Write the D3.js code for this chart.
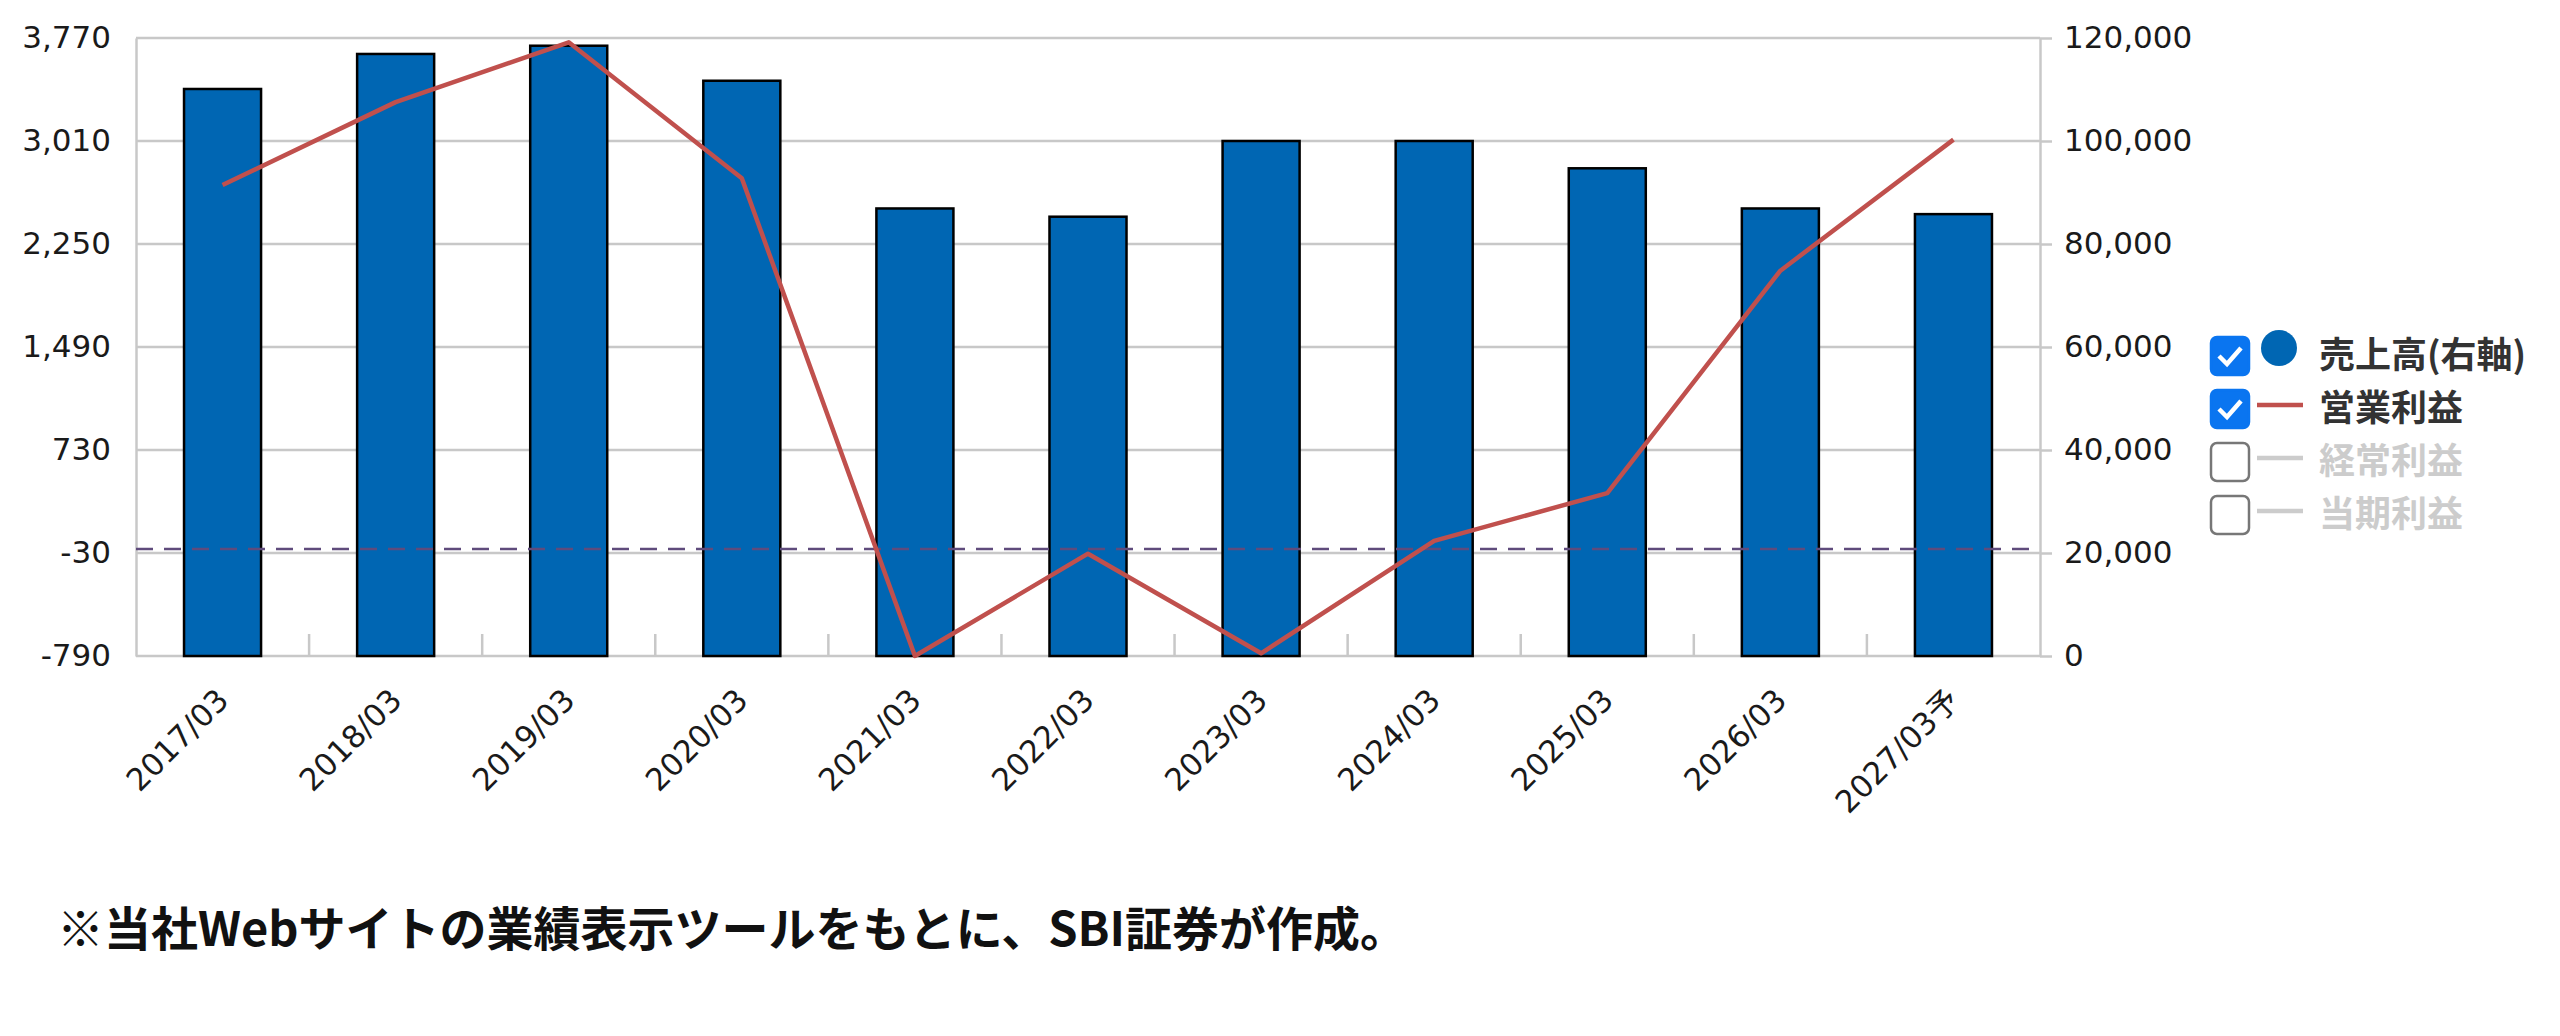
<!DOCTYPE html>
<html>
<head>
<meta charset="utf-8">
<script src="https://cdn.jsdelivr.net/npm/d3@7"></script>
<style>
  body { margin: 0; background: #fff; }
  svg { display: block; }
</style>
</head>
<body>
<div class="chart"></div>
<script>
// data
const categories = ["2017/03", "2018/03", "2019/03", "2020/03", "2021/03", "2022/03",
                    "2023/03", "2024/03", "2025/03", "2026/03", "2027/03予"];
const sales = [110100, 116900, 118500, 111700, 86900, 85300, 100000, 100000, 94700, 86900, 85800]; // 売上高(右軸)
const opProfit = [2685, 3297, 3738, 2735, -790, -35, -770, 60, 412, 2053, 3020];                     // 営業利益
const leftTicks = [-790, -30, 730, 1490, 2250, 3010, 3770];
const rightTicks = [0, 20000, 40000, 60000, 80000, 100000, 120000];
const legendItems = [
  { label: "売上高(右軸)", on: true, kind: "dot" },
  { label: "営業利益", on: true, kind: "line" },
  { label: "経常利益", on: false, kind: "line" },
  { label: "当期利益", on: false, kind: "line" }
];
const footnote = "※当社Webサイトの業績表示ツールをもとに、SBI証券が作成。";

const W = 2560, H = 1036;
const plotLeft = 136, plotRight = 2040, plotTop = 38, plotBottom = 656;
const font = '"DejaVu Sans", "Noto Sans CJK JP", sans-serif';
const jpFont = '"Noto Sans CJK JP", sans-serif';
const fmt = d => d3.format(",")(d).replace("\u2212", "-"); // plain hyphen like the original

const svg = d3.select(".chart").append("svg")
  .attr("width", W)
  .attr("height", H)
  .style("background", "#fff");

// scales
const x = d3.scaleBand()
  .domain(categories)
  .range([plotLeft, plotRight])
  .paddingInner(0.555)
  .paddingOuter(0.2775);

const yL = d3.scaleLinear().domain([-790, 3770]).range([plotBottom, plotTop]);
const yR = d3.scaleLinear().domain([0, 120000]).range([plotBottom, plotTop]);

// gridlines
svg.append("g")
  .selectAll("line")
  .data(rightTicks)
  .enter()
  .append("line")
  .attr("x1", plotLeft)
  .attr("x2", plotRight)
  .attr("y1", d => yR(d))
  .attr("y2", d => yR(d))
  .attr("stroke", "#c8c8c8")
  .attr("stroke-width", 2.5);

// small ticks between categories on the bottom
const step = x.step();
svg.append("g")
  .selectAll("line")
  .data(categories.slice(1))
  .enter()
  .append("line")
  .attr("x1", d => x(d) + x.bandwidth() / 2 - step / 2)
  .attr("x2", d => x(d) + x.bandwidth() / 2 - step / 2)
  .attr("y1", plotBottom)
  .attr("y2", plotBottom - 22)
  .attr("stroke", "#c8c8c8")
  .attr("stroke-width", 2.5);

// left axis
const gl = svg.append("g")
  .attr("transform", `translate(${plotLeft},0)`)
  .call(d3.axisLeft(yL).tickValues(leftTicks).tickFormat(fmt).tickSize(0).tickPadding(25));
gl.select(".domain").attr("stroke", "#c8c8c8").attr("stroke-width", 2.5);
gl.selectAll("text").style("font-family", font).style("font-size", "31px").attr("fill", "#1a1a1a");

// right axis
const gr = svg.append("g")
  .attr("transform", `translate(${plotRight},0)`)
  .call(d3.axisRight(yR).tickValues(rightTicks).tickFormat(fmt).tickSize(12).tickSizeOuter(0).tickPadding(12));
gr.select(".domain").attr("stroke", "#c8c8c8").attr("stroke-width", 2.5);
gr.selectAll(".tick line").attr("stroke", "#c8c8c8").attr("stroke-width", 2.5);
gr.selectAll("text").style("font-family", font).style("font-size", "31px").attr("fill", "#1a1a1a");

// bars (right axis)
svg.append("g")
  .selectAll("rect")
  .data(categories)
  .enter()
  .append("rect")
  .attr("x", d => x(d))
  .attr("width", x.bandwidth())
  .attr("y", (d, i) => yR(sales[i]))
  .attr("height", (d, i) => plotBottom - yR(sales[i]))
  .attr("fill", "#0066b3")
  .attr("stroke", "#000")
  .attr("stroke-width", 2.5);

// zero line of the left axis
svg.append("line")
  .attr("x1", plotLeft)
  .attr("x2", plotRight)
  .attr("y1", yL(0))
  .attr("y2", yL(0))
  .attr("stroke", "#5f4b7c")
  .attr("stroke-width", 2.5)
  .attr("stroke-dasharray", "17,11");

// operating profit line (left axis)
const line = d3.line()
  .x((d, i) => x(categories[i]) + x.bandwidth() / 2)
  .y(d => yL(d));
svg.append("path")
  .datum(opProfit)
  .attr("d", line)
  .attr("fill", "none")
  .attr("stroke", "#c0504d")
  .attr("stroke-width", 4.5)
  .attr("stroke-linejoin", "round");

// x labels
svg.append("g")
  .selectAll("text")
  .data(categories)
  .enter()
  .append("text")
  .attr("transform", d => `translate(${x(d) + x.bandwidth() / 2 + 8},${702}) rotate(-45)`)
  .attr("text-anchor", "end")
  .style("font-family", font)
  .style("font-size", "31px")
  .attr("fill", "#1a1a1a")
  .text(d => d);

// legend
const lg = svg.append("g")
  .selectAll("g")
  .data(legendItems)
  .enter()
  .append("g")
  .attr("transform", (d, i) => `translate(2211,${352 + i * 53})`);

lg.append("rect")
  .attr("x", 0)
  .attr("y", -15)
  .attr("width", 38)
  .attr("height", 38)
  .attr("rx", 6)
  .attr("fill", d => d.on ? "#0a75f0" : "#fff")
  .attr("stroke", d => d.on ? "#0a75f0" : "#777")
  .attr("stroke-width", 2.5);

lg.filter(d => d.on)
  .append("path")
  .attr("d", "M8,4 L16,12 L30,-4")
  .attr("fill", "none")
  .attr("stroke", "#fff")
  .attr("stroke-width", 4.5);

lg.filter(d => d.kind === "dot")
  .append("circle")
  .attr("cx", 68)
  .attr("cy", -4)
  .attr("r", 18)
  .attr("fill", "#0066b3");

lg.filter(d => d.kind === "line")
  .append("line")
  .attr("x1", 46)
  .attr("x2", 92)
  .attr("y1", 0)
  .attr("y2", 0)
  .attr("stroke", d => d.on ? "#c0504d" : "#cccccc")
  .attr("stroke-width", 4.5);

lg.append("text")
  .attr("x", 108)
  .attr("y", 0)
  .attr("dominant-baseline", "central")
  .style("font-family", jpFont)
  .style("font-size", "36px")
  .style("font-weight", "bold")
  .attr("fill", d => d.on ? "#333" : "#cccccc")
  .text(d => d.label);

// footnote
svg.append("text")
  .attr("x", 57)
  .attr("y", 946)
  .style("font-family", jpFont)
  .style("font-size", "47px")
  .style("font-weight", "bold")
  .attr("fill", "#111")
  .text(footnote);
</script>
</body>
</html>
